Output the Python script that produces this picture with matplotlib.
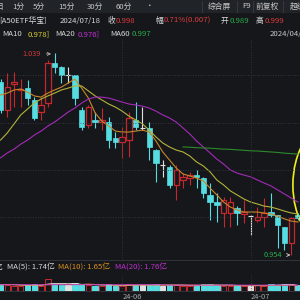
import numpy as np
import matplotlib
matplotlib.use("Agg")
import matplotlib.pyplot as plt
from matplotlib.patches import Rectangle, Ellipse

plt.rcParams['font.family'] = ['Noto Sans CJK SC', 'DejaVu Sans']

nan = np.nan

# daily candles (A50ETF)
opens = [1.0271, 1.0153, 1.0262, 1.0237, 1.0245, 1.0195, 1.0144, 1.0182, 1.0351, 1.0334,
         1.0300, 1.0300, 1.0153, 1.0089, 1.0111, 1.0102, 1.0102, 1.0035, 1.0018, 1.0026,
         1.0111, 1.0079, 1.0077, 0.9984, 0.9921, 0.9913, 0.9837, 0.9858, 0.9866, 0.9879,
         0.9866, 0.9795, 0.9765, 0.9719, 0.9719, 0.9740, 0.9715, 0.9706, 0.9689, 0.9702,
         0.9723, 0.9711, 0.9660, 0.9593, 0.9711]
highs = [1.0285, 1.0308, 1.0313, 1.0283, 1.0279, 1.0207, 1.0207, 1.0363, 1.0393, 1.0338,
         1.0334, 1.0300, 1.0165, 1.0174, 1.0144, 1.0160, 1.0123, 1.0060, 1.0081, 1.0144,
         1.0185, 1.0165, 1.0102, 0.9990, 0.9942, 0.9920, 0.9921, 0.9887, 0.9892, 0.9900,
         0.9871, 0.9845, 0.9803, 0.9787, 0.9787, 0.9749, 0.9774, 0.9711, 0.9744, 0.9782,
         0.9803, 0.9711, 0.9660, 0.9702, 0.9719]
lows = [1.0140, 1.0123, 1.0165, 1.0165, 1.0174, 1.0111, 1.0111, 1.0165, 1.0308, 1.0266,
        1.0266, 1.0174, 1.0068, 1.0077, 1.0077, 1.0068, 0.9993, 0.9993, 0.9951, 0.9955,
        1.0068, 1.0068, 0.9942, 0.9849, 0.9871, 0.9824, 0.9774, 0.9824, 0.9837, 0.9824,
        0.9782, 0.9689, 0.9681, 0.9660, 0.9660, 0.9668, 0.9677, 0.9626, 0.9681, 0.9660,
        0.9702, 0.9572, 0.9563, 0.9540, 0.9690]
closes = [1.0153, 1.0249, 1.0271, 1.0241, 1.0203, 1.0119, 1.0174, 1.0351, 1.0334, 1.0300,
          1.0300, 1.0203, 1.0081, 1.0165, 1.0102, 1.0111, 1.0026, 1.0018, 1.0039, 1.0119,
          1.0081, 1.0079, 0.9997, 0.9929, 0.9921, 0.9837, 0.9900, 0.9871, 0.9879, 0.9871,
          0.9803, 0.9765, 0.9753, 0.9774, 0.9765, 0.9719, 0.9723, 0.9706, 0.9702, 0.9719,
          0.9711, 0.9668, 0.9593, 0.9698, 0.9698]

ma5 = [1.0216, 1.0224, 1.0237, 1.0241, 1.0228, 1.0212, 1.0207, 1.0224, 1.0237, 1.0249,
       1.0266, 1.0283, 1.0245, 1.0203, 1.0140, 1.0106, 1.0085, 1.0064, 1.0060, 1.0060,
       1.0064, 1.0068, 1.0060, 1.0022, 0.9976, 0.9942, 0.9908, 0.9883, 0.9875, 0.9866,
       0.9854, 0.9824, 0.9795, 0.9765, 0.9744, 0.9732, 0.9723, 0.9723, 0.9723, 0.9719,
       0.9715, 0.9706, 0.9694, 0.9685, 0.9681]
ma10 = [1.0026, 1.0056, 1.0094, 1.0132, 1.0157, 1.0182, 1.0199, 1.0212, 1.0224, 1.0237,
        1.0245, 1.0254, 1.0254, 1.0233, 1.0212, 1.0195, 1.0178, 1.0165, 1.0148, 1.0127,
        1.0111, 1.0094, 1.0068, 1.0039, 1.0014, 0.9997, 0.9984, 0.9976, 0.9959, 0.9934,
        0.9917, 0.9892, 0.9858, 0.9837, 0.9812, 0.9795, 0.9778, 0.9765, 0.9757, 0.9748,
        0.9744, 0.9736, 0.9727, 0.9719, 0.9715]
ma20 = [0.9951, 0.9972, 0.9988, 1.0009, 1.0026, 1.0047, 1.0064, 1.0085, 1.0102, 1.0123,
        1.0144, 1.0161, 1.0182, 1.0199, 1.0207, 1.0207, 1.0203, 1.0195, 1.0186, 1.0178,
        1.0174, 1.0169, 1.0161, 1.0148, 1.0132, 1.0119, 1.0102, 1.0077, 1.0052, 1.0022,
        0.9997, 0.9972, 0.9946, 0.9925, 0.9900, 0.9887, 0.9879, 0.9871, 0.9858, 0.9845,
        0.9833, 0.9816, 0.9799, 0.9782, 0.9765]
ma60 = [nan] * 27 + [0.9997, 0.9996, 0.9994, 0.9993, 0.9992, 0.9990, 0.9988, 0.9987, 0.9985,
                     0.9983, 0.9981, 0.9980, 0.9978, 0.9976, 0.9974, 0.9971, 0.9969, 0.9967]

# volume in 亿
volumes = [1.7, 1.8, 1.5, 1.6, 1.9, 2.0, 1.6, 3.6, 2.2, 1.9, 1.7, 2.3, 2.1, 1.8, 1.5,
           1.6, 2.0, 1.4, 1.6, 2.2, 1.8, 1.7, 1.9, 2.0, 1.6, 1.9, 1.8, 1.5, 1.6, 1.5,
           2.0, 2.1, 1.7, 1.6, 1.5, 1.7, 1.5, 1.6, 1.7, 1.6, 2.0, 1.9, 2.1, 2.2, 1.7]
vol_ma5 = [2.0, 2.0, 1.9, 1.8, 1.7, 1.8, 1.7, 2.1, 2.3, 2.3, 2.2, 2.3, 2.0, 2.0, 1.9,
           1.8, 1.8, 1.7, 1.7, 1.7, 1.8, 1.8, 1.8, 1.9, 1.8, 1.8, 1.8, 1.8, 1.7, 1.7,
           1.7, 1.8, 1.8, 1.8, 1.8, 1.7, 1.6, 1.6, 1.6, 1.6, 1.7, 1.8, 1.9, 2.0, 1.7]
vol_ma10 = [1.9, 1.9, 1.9, 1.8, 1.8, 1.8, 1.8, 1.9, 1.9, 2.0, 2.0, 2.0, 2.0, 2.1, 2.0,
            2.0, 1.9, 1.8, 1.8, 1.8, 1.8, 1.8, 1.8, 1.8, 1.8, 1.8, 1.8, 1.8, 1.8, 1.8,
            1.8, 1.8, 1.8, 1.7, 1.7, 1.7, 1.7, 1.7, 1.7, 1.7, 1.7, 1.7, 1.7, 1.7, 1.65]
vol_ma20 = [1.9, 1.9, 1.9, 1.9, 1.9, 1.9, 1.9, 1.9, 1.9, 1.9, 1.9, 1.9, 1.9, 1.9, 1.9,
            1.9, 1.9, 1.9, 1.9, 1.9, 1.9, 1.9, 1.9, 1.9, 1.9, 1.8, 1.8, 1.8, 1.8, 1.8,
            1.8, 1.8, 1.8, 1.8, 1.8, 1.8, 1.8, 1.8, 1.8, 1.8, 1.8, 1.8, 1.8, 1.8, 1.76]

month_idx = [18, 37]
month_labels = ['24-06', '24-07']
grid_prices = [0.97, 0.99, 1.01, 1.03]

BG = '#15171b'
RED = '#c8282c'
CYAN = '#56dde2'
WHITE = '#e0e0e0'

fig = plt.figure(figsize=(3, 3), dpi=100, facecolor=BG)

ax = fig.add_axes([0, 40 / 300, 1, 222 / 300], facecolor=BG)
vax = fig.add_axes([0, 9 / 300, 1, 17 / 300], facecolor=BG)

n = len(closes)
x = np.arange(n)
w = 0.8

for i in range(n):
    o, h, l, c = opens[i], highs[i], lows[i], closes[i]
    if c > o:
        ax.vlines(i, l, o, color=RED, lw=0.8)
        ax.vlines(i, c, h, color=RED, lw=0.8)
        ax.add_patch(Rectangle((i - w / 2, o), w, c - o, facecolor=BG, edgecolor=RED, lw=0.9))
        vc, vf = RED, BG
    elif c < o:
        ax.vlines(i, l, h, color=CYAN, lw=0.8)
        ax.add_patch(Rectangle((i - w / 2, c), w, o - c, facecolor=CYAN, edgecolor=CYAN, lw=0.5))
        vc, vf = CYAN, CYAN
    else:
        ax.vlines(i, l, h, color=WHITE, lw=0.8)
        ax.hlines(c, i - w / 2, i + w / 2, color=WHITE, lw=0.8)
        vc, vf = WHITE, WHITE
    vax.add_patch(Rectangle((i - w / 2, 0), w, volumes[i], facecolor=vf, edgecolor=vc, lw=0.7))

ax.plot(x, ma5, color='#c8862a', lw=0.8)
ax.plot(x, ma10, color='#b4b23a', lw=0.8)
ax.plot(x, ma20, color='#a42ab8', lw=0.8)
ax.plot(x, ma60, color='#2c8a2c', lw=0.8)

vax.plot(x, vol_ma5, color='#e8e8e8', lw=0.6)
vax.plot(x, vol_ma10, color='#d89020', lw=0.6)
vax.plot(x, vol_ma20, color='#c030d0', lw=0.6)

for gp in grid_prices:
    ax.axhline(gp, color='#3a3d45', lw=0.6, ls=(0, (1, 2)))
for mi in month_idx:
    ax.axvline(mi, color='#3a3d45', lw=0.6, ls=(0, (1, 2)))

# highlight ellipse at right edge
ax.add_patch(Ellipse((48.7, 0.9837), 10.9, 0.0505, fill=False, edgecolor='#f2ee1a', lw=1.2))

# max / min markers
imax = int(np.argmax(highs))
imin = int(np.argmin(lows))
ax.annotate(f'{highs[imax]:.3f}', xy=(imax - 0.1, highs[imax] - 0.0004), xytext=(imax - 3.4, highs[imax] - 0.0004),
            color='#d03a3a', fontsize=5.3, va='center', ha='center',
            arrowprops=dict(arrowstyle='->', color='#b0b0b0', lw=0.6))
ax.annotate(f'{lows[imin]:.3f}', xy=(imin + 0.3, lows[imin] + 0.0002), xytext=(imin - 2.7, lows[imin] + 0.0002),
            color='#2ab04a', fontsize=5.3, va='center', ha='center',
            arrowprops=dict(arrowstyle='->', color='#d0d0d0', lw=0.6))

for a in (ax, vax):
    a.set_xlim(-0.074, 44.3)
    a.set_xticks([])
    a.set_yticks([])
    for s in a.spines.values():
        s.set_visible(False)
ax.set_ylim(0.9521, 1.0456)
vax.set_ylim(0, 5.15)
for mi in month_idx:
    vax.axvline(mi, color='#3a3d45', lw=0.6, ls=(0, (1, 2)))

# panel separators
fig.add_artist(plt.Line2D([0, 1], [1 - 260 / 300, 1 - 260 / 300], color='#30333a', lw=0.7))
fig.add_artist(plt.Line2D([0, 1], [1 - 291 / 300, 1 - 291 / 300], color='#30333a', lw=0.7))

# header bar
fig.add_artist(Rectangle((0, 1 - 13 / 300), 1, 13 / 300, transform=fig.transFigure,
                         facecolor='#202328', edgecolor='none'))


def ftext(px, py, s, color, size=5.6):
    fig.text(px / 300, 1 - py / 300, s, color=color, fontsize=size, ha='left', va='center')


for px, s in [(-4, '日'), (12, '1分'), (33, '5分'), (58, '15分'), (87, '30分'), (116, '60分'), (146, '•')]:
    ftext(px, 6.5, s, '#c8c8c8')
for px, s in [(208, '综合屏'), (242, 'F9'), (256, '前复权'), (290, '超级')]:
    ftext(px, 6.5, s, '#c8c8c8')
for px in [202, 237, 253, 283]:
    fig.add_artist(plt.Line2D([px / 300, px / 300], [1 - 12 / 300, 1 - 1 / 300], color='#3a3d44', lw=0.6))

ftext(-1, 21, '[A50ETF华宝]', '#d8d8d8')
ftext(60, 21, '2024/07/18', '#d8d8d8')
ftext(108, 21, '收', '#d8d8d8')
ftext(116, 21, '0.998', '#e03c3c')
ftext(155, 21, '幅', '#d8d8d8')
ftext(164, 21, '0.71%(0.007)', '#e03c3c')
ftext(221, 21, '开', '#d8d8d8')
ftext(230, 21, '0.989', '#2ab04a')
ftext(256, 21, '高', '#d8d8d8')
ftext(265, 21, '0.999', '#e03c3c')

ftext(2, 34, 'MA10', '#d8d8d8')
ftext(28, 34, '0.978]', '#d8d030')
ftext(55, 34, 'MA20', '#d8d8d8')
ftext(78, 34, '0.976]', '#c030d0')
ftext(110, 34, 'MA60', '#d8d8d8')
ftext(132, 34, '0.997', '#2ab04a')
ftext(270, 34, '2024/04/', '#c8c8c8')

ftext(-5, 268, '亿', '#d8d8d8')
ftext(7, 268, 'MA(5): 1.74亿', '#d8d8d8')
ftext(58, 268, 'MA(10): 1.65亿', '#d89020')
ftext(115, 268, 'MA(20): 1.76亿', '#c030d0')

for mi, lab in zip(month_idx, month_labels):
    vax.text(mi, -0.5, lab, color='#a8a8a8', fontsize=5.4, ha='left', va='top', clip_on=False)

fig.savefig('out.png', dpi=100, facecolor=BG)
